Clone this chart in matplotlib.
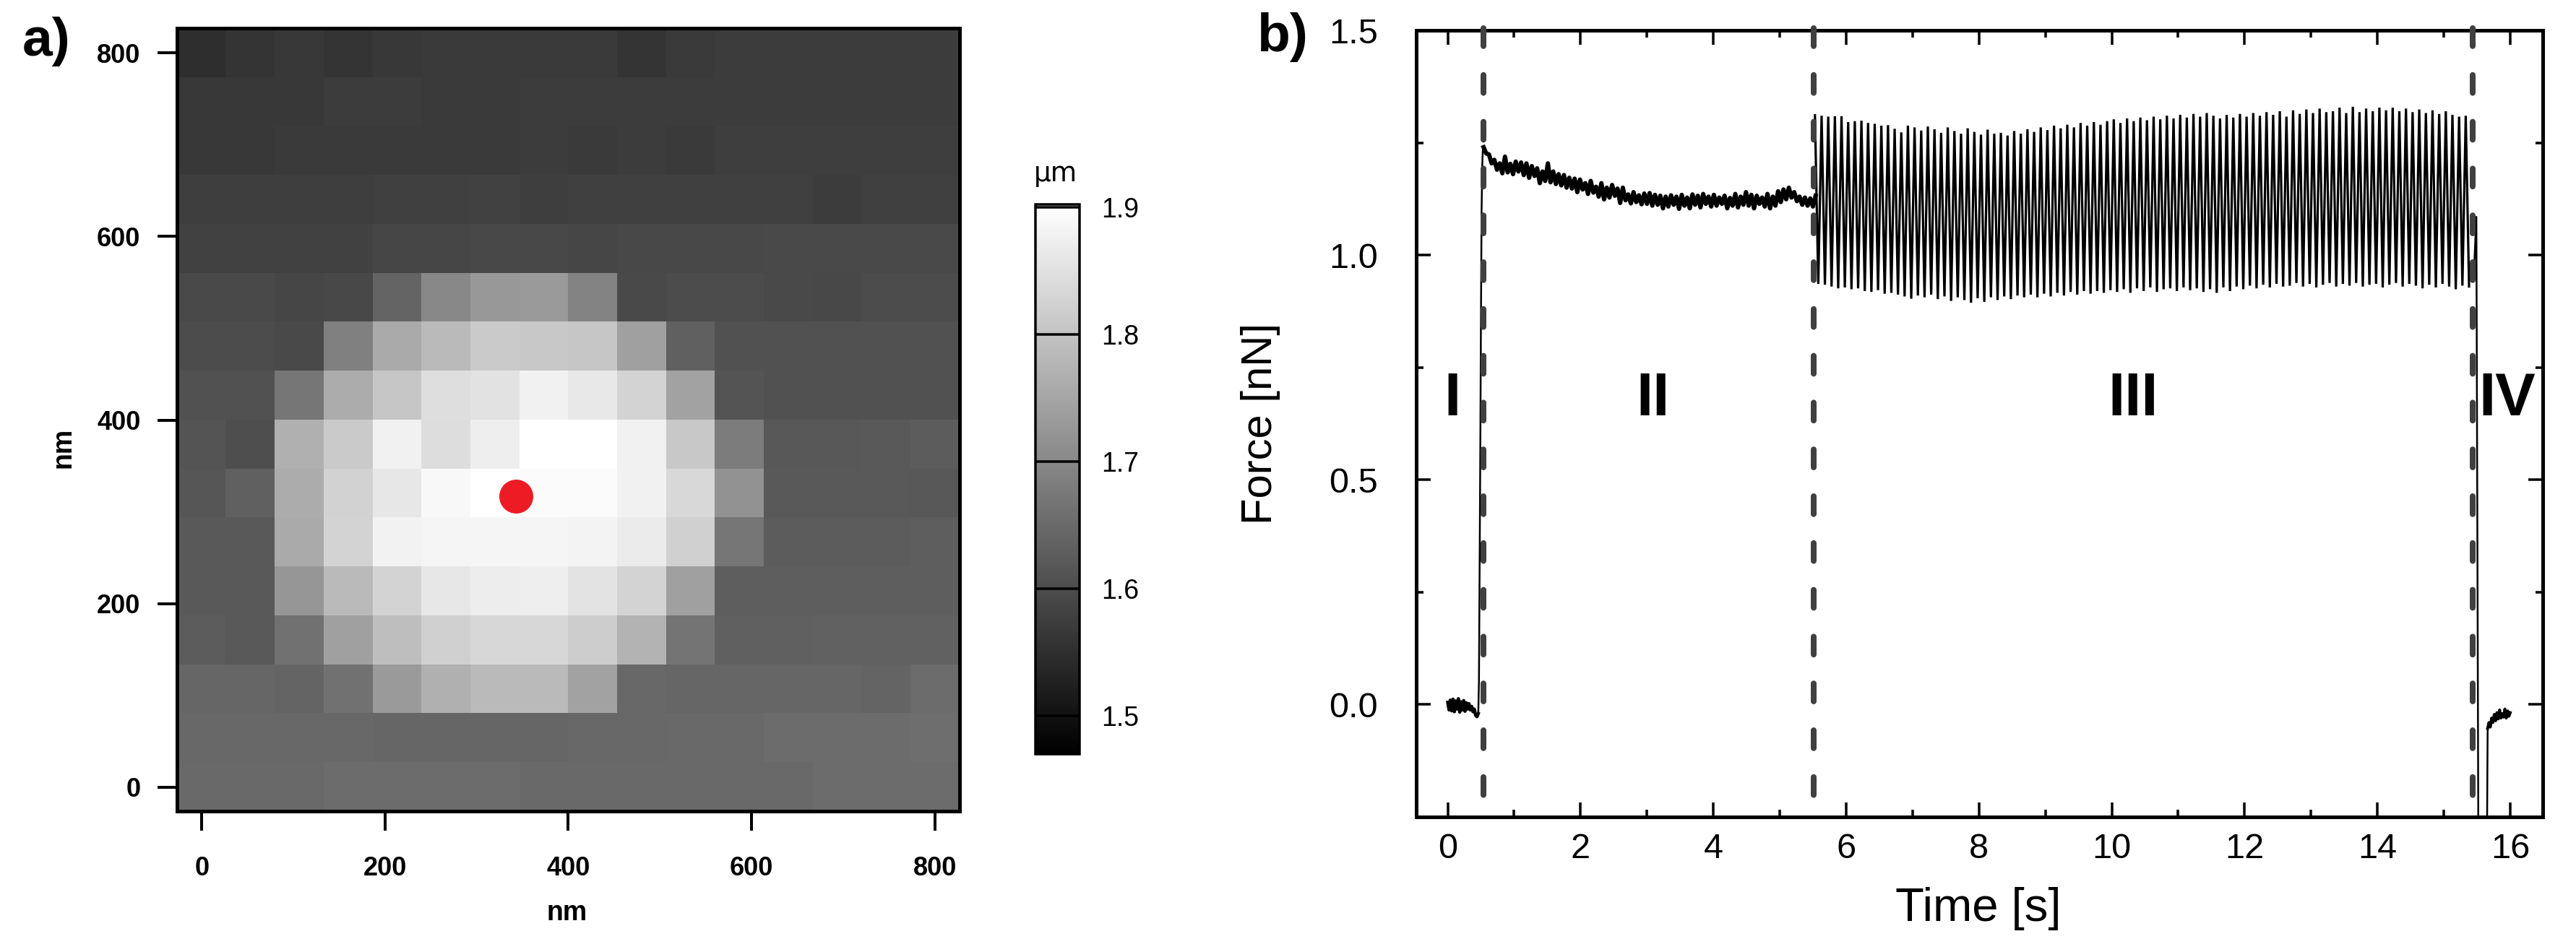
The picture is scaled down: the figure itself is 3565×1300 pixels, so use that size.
import numpy as np
import matplotlib
matplotlib.use('Agg')
import matplotlib.pyplot as plt

W, H = 3566, 1300
plt.rcParams['font.family'] = ['Liberation Sans', 'DejaVu Sans']

# a) height map in um, top row first
height_um = [
    [1.548, 1.558, 1.565, 1.561, 1.565, 1.568, 1.568, 1.568, 1.568, 1.561, 1.568, 1.572, 1.572, 1.572, 1.572, 1.572],
    [1.565, 1.565, 1.565, 1.572, 1.572, 1.568, 1.568, 1.572, 1.572, 1.572, 1.572, 1.572, 1.572, 1.572, 1.572, 1.572],
    [1.565, 1.565, 1.568, 1.568, 1.568, 1.568, 1.568, 1.572, 1.568, 1.572, 1.568, 1.575, 1.575, 1.575, 1.575, 1.575],
    [1.575, 1.575, 1.575, 1.575, 1.578, 1.578, 1.582, 1.575, 1.578, 1.578, 1.578, 1.578, 1.578, 1.572, 1.578, 1.578],
    [1.582, 1.582, 1.582, 1.582, 1.589, 1.589, 1.592, 1.592, 1.589, 1.592, 1.592, 1.592, 1.595, 1.595, 1.595, 1.595],
    [1.595, 1.595, 1.589, 1.592, 1.639, 1.700, 1.727, 1.731, 1.694, 1.595, 1.599, 1.599, 1.595, 1.592, 1.599, 1.599],
    [1.599, 1.599, 1.595, 1.687, 1.758, 1.785, 1.812, 1.809, 1.805, 1.741, 1.633, 1.609, 1.609, 1.609, 1.609, 1.609],
    [1.609, 1.609, 1.670, 1.761, 1.805, 1.846, 1.853, 1.877, 1.863, 1.829, 1.744, 1.612, 1.609, 1.609, 1.609, 1.609],
    [1.612, 1.602, 1.768, 1.812, 1.877, 1.843, 1.873, 1.902, 1.902, 1.877, 1.809, 1.680, 1.619, 1.619, 1.622, 1.626],
    [1.616, 1.633, 1.761, 1.826, 1.860, 1.890, 1.902, 1.894, 1.894, 1.877, 1.836, 1.717, 1.622, 1.622, 1.622, 1.619],
    [1.622, 1.622, 1.758, 1.829, 1.880, 1.885, 1.885, 1.885, 1.883, 1.868, 1.822, 1.670, 1.626, 1.626, 1.626, 1.629],
    [1.622, 1.622, 1.724, 1.785, 1.829, 1.860, 1.870, 1.873, 1.856, 1.829, 1.741, 1.629, 1.629, 1.629, 1.629, 1.629],
    [1.626, 1.622, 1.663, 1.741, 1.792, 1.822, 1.833, 1.833, 1.816, 1.775, 1.667, 1.633, 1.633, 1.636, 1.636, 1.636],
    [1.643, 1.643, 1.639, 1.663, 1.731, 1.768, 1.785, 1.785, 1.744, 1.646, 1.643, 1.643, 1.643, 1.643, 1.639, 1.653],
    [1.646, 1.646, 1.646, 1.646, 1.643, 1.643, 1.643, 1.643, 1.646, 1.646, 1.650, 1.650, 1.653, 1.653, 1.653, 1.656],
    [1.650, 1.650, 1.650, 1.653, 1.653, 1.653, 1.653, 1.650, 1.650, 1.650, 1.650, 1.650, 1.650, 1.653, 1.653, 1.653],
]
map_extent = [-27, 827, -26, 827]
tip_x = [343]
tip_y = [317]
map_ticks = [0, 200, 400, 600, 800]
cbar_ticks = [1.5, 1.6, 1.7, 1.8, 1.9]

# b) force curve, one list per phase
baseline_t = [0.00, 0.02, 0.04, 0.06, 0.08, 0.10, 0.12, 0.14, 0.16, 0.18, 0.20, 0.22, 0.24, 0.26, 0.28, 0.30,
              0.32, 0.34, 0.36, 0.38, 0.40, 0.42, 0.44, 0.46]
baseline_f = [0.005, -0.012, 0.010, -0.014, 0.012, -0.016, 0.008, -0.010, 0.013, -0.017, 0.006, -0.012, 0.009,
              -0.015, 0.004, -0.010, 0.002, -0.012, -0.004, -0.016, -0.010, -0.024, -0.027, -0.020]
rise_t = [0.46, 0.47, 0.48, 0.49, 0.50, 0.51, 0.52, 0.53, 0.54]
rise_f = [-0.020, 0.05, 0.30, 0.55, 0.85, 1.10, 1.20, 1.24, 1.24]

relax_f = [1.240, 1.226, 1.224, 1.204, 1.212, 1.190, 1.204, 1.182, 1.219, 1.184, 1.203, 1.180, 1.208, 1.186, 1.206, 1.178,
           1.204, 1.172, 1.198, 1.176, 1.193, 1.160, 1.186, 1.165, 1.204, 1.162, 1.186, 1.158, 1.180, 1.155,
           1.178, 1.150, 1.172, 1.148, 1.170, 1.140, 1.168, 1.146, 1.160, 1.136, 1.165, 1.139, 1.152, 1.130, 1.160, 1.124,
           1.150, 1.128, 1.156, 1.132, 1.148, 1.116, 1.150, 1.122, 1.135, 1.115, 1.140, 1.118, 1.133, 1.113, 1.137, 1.114,
           1.138, 1.110, 1.134, 1.112, 1.132, 1.104, 1.130, 1.108, 1.133, 1.112, 1.130, 1.103, 1.134, 1.110, 1.128, 1.104,
           1.135, 1.112, 1.132, 1.106, 1.136, 1.114, 1.130, 1.108, 1.134, 1.110, 1.128, 1.114, 1.132, 1.104, 1.127, 1.110,
           1.136, 1.106, 1.130, 1.112, 1.140, 1.110, 1.134, 1.104, 1.132, 1.114, 1.128, 1.108, 1.136, 1.104, 1.130, 1.110,
           1.142, 1.118, 1.146, 1.124, 1.150, 1.128, 1.140, 1.120, 1.130, 1.112, 1.128, 1.110, 1.126, 1.108, 1.132]

osc_top = [1.311, 1.310, 1.308, 1.309, 1.309, 1.296, 1.298, 1.299, 1.294, 1.292, 1.288, 1.289, 1.281, 1.273, 1.288,
           1.284, 1.277, 1.286, 1.280, 1.272, 1.284, 1.276, 1.270, 1.282, 1.274, 1.268, 1.279, 1.270, 1.272, 1.266,
           1.276, 1.270, 1.280, 1.274, 1.284, 1.278, 1.288, 1.282, 1.290, 1.284, 1.294, 1.288, 1.296, 1.290, 1.298,
           1.302, 1.294, 1.304, 1.298, 1.306, 1.300, 1.308, 1.302, 1.310, 1.304, 1.312, 1.306, 1.314, 1.308, 1.316,
           1.310, 1.304, 1.312, 1.306, 1.314, 1.308, 1.316, 1.310, 1.318, 1.312, 1.320, 1.308, 1.322, 1.314, 1.324,
           1.316, 1.326, 1.318, 1.320, 1.328, 1.316, 1.330, 1.318, 1.326, 1.320, 1.328, 1.322, 1.328, 1.320, 1.326,
           1.318, 1.324, 1.316, 1.322, 1.314, 1.320, 1.312, 1.308, 1.310]
osc_bottom = [0.936, 0.934, 0.930, 0.926, 0.928, 0.924, 0.926, 0.920, 0.918, 0.922, 0.914, 0.916, 0.912, 0.908, 0.903,
              0.910, 0.906, 0.912, 0.902, 0.908, 0.898, 0.906, 0.900, 0.894, 0.904, 0.896, 0.906, 0.900, 0.908, 0.902,
              0.910, 0.906, 0.912, 0.906, 0.914, 0.908, 0.916, 0.910, 0.918, 0.912, 0.920, 0.914, 0.920, 0.916, 0.922,
              0.918, 0.924, 0.916, 0.926, 0.920, 0.928, 0.918, 0.924, 0.926, 0.920, 0.928, 0.922, 0.926, 0.918, 0.924,
              0.916, 0.928, 0.920, 0.930, 0.924, 0.932, 0.926, 0.934, 0.928, 0.936, 0.930, 0.932, 0.938, 0.930, 0.936,
              0.928, 0.934, 0.938, 0.930, 0.936, 0.932, 0.938, 0.930, 0.934, 0.936, 0.928, 0.934, 0.938, 0.930, 0.936,
              0.932, 0.926, 0.934, 0.928, 0.936, 0.930, 0.924, 0.932, 0.930]

drop_t = [15.45, 15.49, 15.52, 15.65, 15.66]
drop_f = [0.95, 1.085, -0.30, -0.30, -0.053]
retract_t = [15.66, 15.68, 15.70, 15.72, 15.74, 15.76, 15.78, 15.80,
             15.82, 15.84, 15.86, 15.88, 15.90, 15.92, 15.94, 15.96, 15.98, 16.00]
retract_f = [-0.053, -0.040, -0.050, -0.030, -0.040, -0.022, -0.036, -0.018,
             -0.032, -0.012, -0.030, -0.020, -0.028, -0.010, -0.030, -0.014, -0.026, -0.018]

phase_x = [0.533, 5.51, 15.43]
phase_names = ['I', 'II', 'III', 'IV']
phase_name_px = [2010, 2288, 2952, 3470]

relax_t = np.linspace(0.54, 5.54, len(relax_f))
# two turning points per 10 Hz cycle
osc_t = np.linspace(5.53, 15.38, 2 * len(osc_top))
osc_f = np.ravel(np.column_stack([osc_top, osc_bottom]))


def box(x0, y0, x1, y1):
    return [x0 / W, 1 - y1 / H, (x1 - x0) / W, (y1 - y0) / H]


def px(n):
    return n * 0.72


fig = plt.figure(figsize=(W / 100, H / 100), dpi=100)

# panel a
ax = fig.add_axes(box(245, 39, 1328, 1123))
im = ax.imshow(height_um, cmap='gray', vmin=1.47, vmax=1.902, extent=map_extent,
               origin='upper', aspect='auto', interpolation='nearest')
ax.scatter(tip_x, tip_y, s=px(47) ** 2, color='#ed1c24', linewidths=0, zorder=3)
ax.set_xticks(map_ticks)
ax.set_yticks(map_ticks)
ax.tick_params(length=px(27), width=px(4), labelsize=26)
ax.tick_params(axis='x', pad=25)
ax.tick_params(axis='y', pad=17)
for lab in ax.get_xticklabels() + ax.get_yticklabels():
    lab.set_fontweight('bold')
for s in ax.spines.values():
    s.set_linewidth(px(5))
fig.text(785 / W, 1 - 1264 / H, 'nm', fontsize=27, fontweight='bold', ha='center', va='center')
fig.text(88 / W, 1 - 620 / H, 'nm', fontsize=27, fontweight='bold', ha='center', va='center', rotation=90)

# colour bar
cax = fig.add_axes(box(1433, 283, 1494, 1044))
cb = fig.colorbar(im, cax=cax)
cb.set_ticks(cbar_ticks)
cb.ax.tick_params(direction='in', length=px(61), width=px(3.5), labelsize=27, pad=22)
cb.outline.set_linewidth(px(3.5))
fig.text(1461 / W, 1 - 241 / H, '\u00b5m', fontsize=27, ha='center', va='center', family='DejaVu Sans')

# panel b
bx = fig.add_axes(box(1960, 42, 3519, 1131))
bx.plot(baseline_t, baseline_f, color='black', lw=px(4.5))
bx.plot(rise_t, rise_f, color='black', lw=px(2.5))
bx.plot(relax_t, relax_f, color='black', lw=px(6))
bx.plot(osc_t, osc_f, color='black', lw=px(3.2), solid_joinstyle='miter')
bx.plot(drop_t, drop_f, color='black', lw=px(2.5))
bx.plot(retract_t, retract_f, color='black', lw=px(4))
bx.set_xlim(-0.474, 16.49)
bx.set_ylim(-0.25, 1.5)
bx.set_xticks(np.arange(0, 17, 2))
bx.set_xticks(np.arange(1, 16, 2), minor=True)
bx.set_yticks([0, 0.5, 1.0, 1.5])
bx.set_yticklabels(['0.0', '0.5', '1.0', '1.5'])
bx.set_yticks([-0.25, 0.25, 0.75, 1.25], minor=True)
bx.tick_params(which='major', direction='in', top=True, right=True, length=px(20), width=px(3.5), labelsize=35)
bx.tick_params(which='minor', direction='in', top=True, right=True, length=px(10), width=px(3.5))
bx.tick_params(axis='x', which='major', pad=16)
bx.tick_params(axis='y', which='major', pad=38)
for s in bx.spines.values():
    s.set_linewidth(px(5))
for x in phase_x:
    bx.plot([x, x], [1.505, -0.238], color='#404040', lw=px(8), dashes=(3.1, 5.0),
            dash_capstyle='round', clip_on=False, zorder=4)
for name, cx in zip(phase_names, phase_name_px):
    fig.text(cx / W, 1 - 553 / H, name, fontsize=60, fontweight='bold', ha='center', va='center')
fig.text(1745 / W, 1 - 587 / H, 'Force [nN]', fontsize=43, rotation=90, ha='center', va='center')
fig.text(2738 / W, 1 - 1258 / H, 'Time [s]', fontsize=47, ha='center', va='center')

fig.text(64 / W, 1 - 58 / H, 'a)', fontsize=54, fontweight='bold', ha='center', va='center')
fig.text(1774 / W, 1 - 52 / H, 'b)', fontsize=54, fontweight='bold', ha='center', va='center')

fig.savefig('out.png', dpi=100)
